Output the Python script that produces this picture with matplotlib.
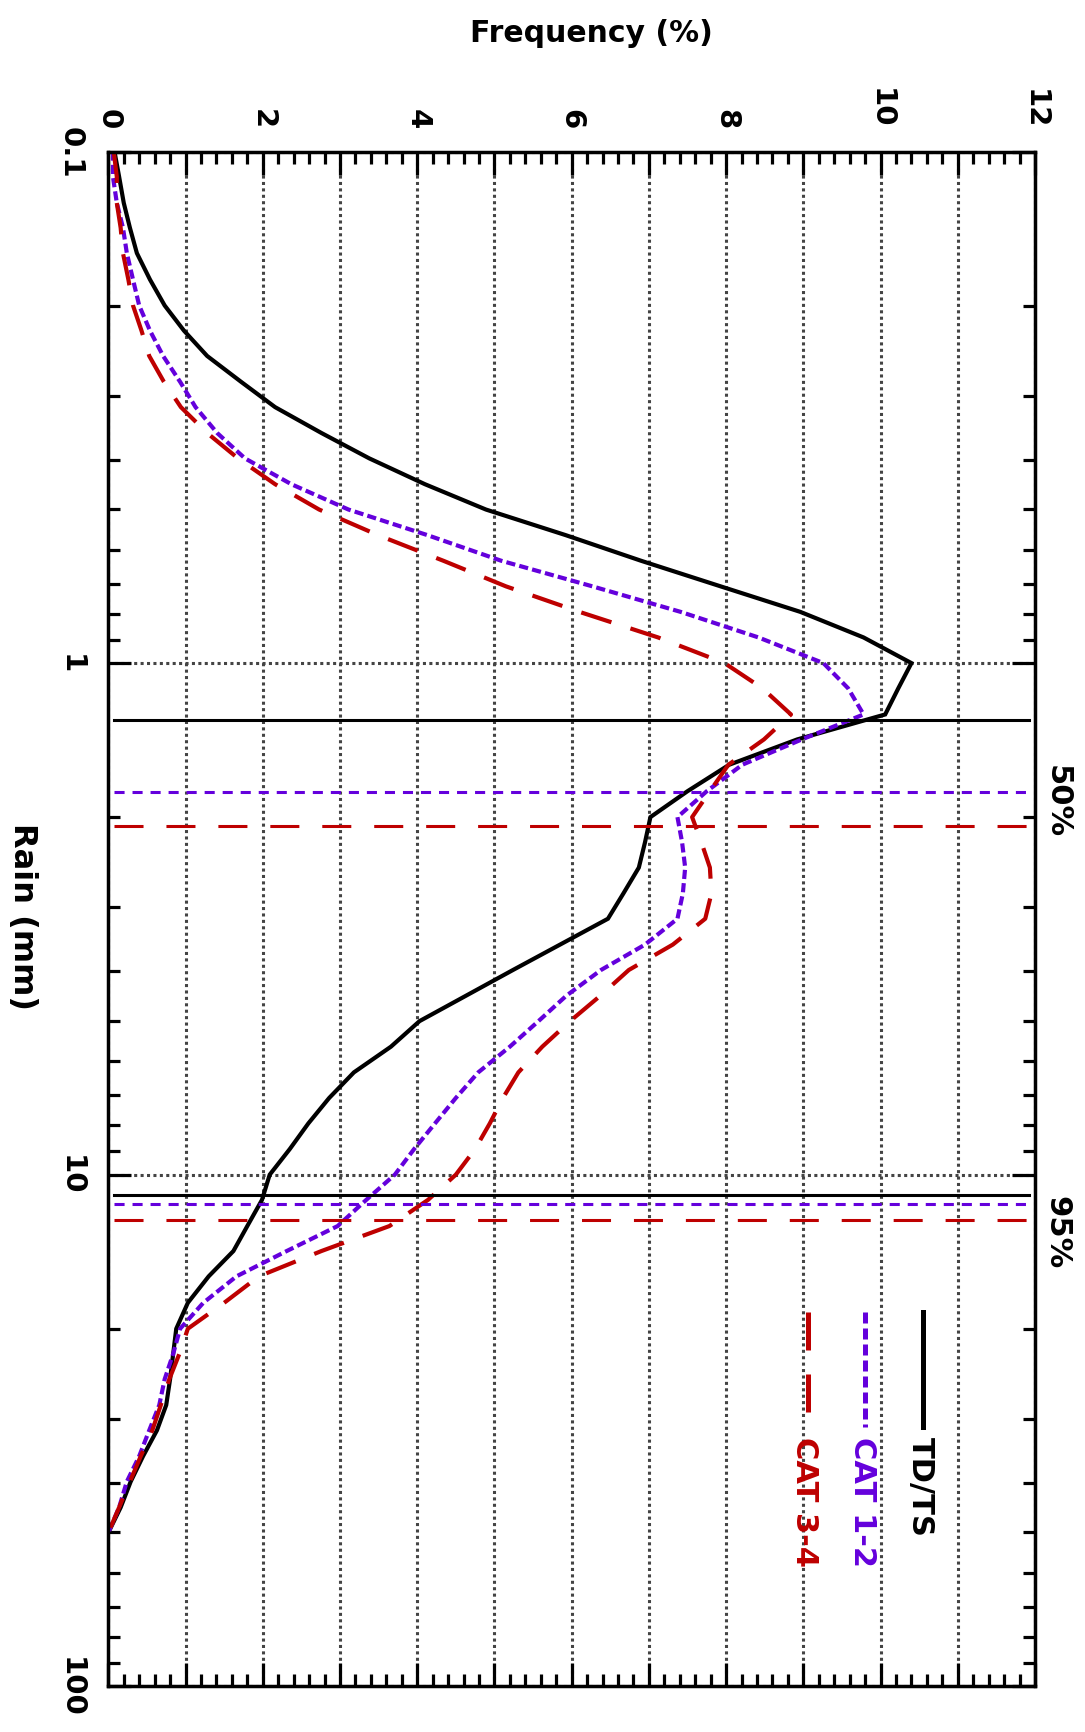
import matplotlib
matplotlib.use("Agg")
import matplotlib.pyplot as plt
from matplotlib.ticker import FixedLocator, FixedFormatter, LogLocator, NullFormatter, MultipleLocator
from matplotlib.lines import Line2D

plt.rcParams['font.family'] = ['DejaVu Sans']
plt.rcParams['font.weight'] = 'bold'

# ---------------- data ----------------
rain_mm = [0.1, 0.112, 0.126, 0.141, 0.158, 0.178, 0.2, 0.224, 0.251, 0.282,
           0.316, 0.355, 0.398, 0.447, 0.501, 0.562, 0.631, 0.708, 0.794, 0.891,
           1.0, 1.12, 1.26, 1.41, 1.58, 1.78, 2.0, 2.24, 2.51, 2.82,
           3.16, 3.55, 3.98, 4.47, 5.01, 5.62, 6.31, 7.08, 7.94, 8.91,
           10.0, 11.2, 12.6, 14.1, 15.8, 17.8, 20.0, 22.4, 25.1, 28.2,
           31.6, 35.5, 39.8, 44.7, 50.1]

freq_tdts = [0.08, 0.14, 0.20, 0.28, 0.37, 0.54, 0.73, 0.98, 1.28, 1.72,
             2.16, 2.76, 3.38, 4.10, 4.89, 5.92, 6.90, 7.93, 8.96, 9.78,
             10.40, 10.23, 10.06, 8.92, 8.04, 7.50, 7.02, 6.95, 6.87, 6.67,
             6.47, 5.85, 5.24, 4.63, 4.03, 3.66, 3.18, 2.86, 2.59, 2.35,
             2.09, 1.99, 1.80, 1.62, 1.30, 1.03, 0.88, 0.84, 0.80, 0.75,
             0.63, 0.45, 0.29, 0.16, 0.0]

freq_cat12 = [0.06, 0.06, 0.11, 0.19, 0.24, 0.32, 0.40, 0.54, 0.71, 0.93,
              1.13, 1.41, 1.77, 2.37, 3.11, 4.13, 5.09, 6.27, 7.41, 8.42,
              9.26, 9.58, 9.78, 8.98, 8.21, 7.75, 7.37, 7.43, 7.47, 7.44,
              7.37, 6.95, 6.38, 5.93, 5.57, 5.20, 4.79, 4.50, 4.23, 3.96,
              3.71, 3.34, 2.97, 2.31, 1.66, 1.23, 0.93, 0.84, 0.73, 0.66,
              0.53, 0.40, 0.24, 0.14, 0.0]

freq_cat34 = [0.07, 0.11, 0.11, 0.16, 0.19, 0.26, 0.32, 0.43, 0.53, 0.72,
              0.94, 1.28, 1.68, 2.16, 2.73, 3.49, 4.34, 5.15, 6.10, 7.12,
              7.98, 8.47, 8.84, 8.49, 8.03, 7.79, 7.56, 7.68, 7.79, 7.81,
              7.73, 7.31, 6.74, 6.37, 5.98, 5.62, 5.31, 5.11, 4.94, 4.75,
              4.50, 4.14, 3.64, 2.76, 1.95, 1.50, 1.03, 0.92, 0.79, 0.68,
              0.57, 0.42, 0.28, 0.14, 0.0]

series_names = ['TD/TS', 'CAT 1-2', 'CAT 3-4']
p50 = [1.29, 1.79, 2.08]
p95 = [10.96, 11.43, 12.27]

freq_ticks = list(range(0, 13))
freq_ticklabels = ['0', '', '2', '', '4', '', '6', '', '8', '', '10', '', '12']
rain_ticks = [0.1, 1, 10, 100]
rain_ticklabels = ['0.1', '1', '10', '100']

# ---------------- styles ----------------
BLACK = '#000000'
BLUE = '#6400DC'
RED = '#BE0000'
colors = [BLACK, BLUE, RED]
curve_styles = ['-', (0, (2.2, 1.0)), (0, (7.6, 4.8))]
ref_styles = ['-', (0, (3.3, 2.6)), (0, (9.5, 7.5))]

W, H = 1085, 1733
fig = plt.figure(figsize=(W / 100, H / 100), dpi=100)
ax_l, ax_r, ax_t, ax_b = 108.3, 1035.0, 152.5, 1687.3
ax = fig.add_axes([ax_l / W, 1 - ax_b / H, (ax_r - ax_l) / W, (ax_b - ax_t) / H])

ax.set_yscale('log')
ax.set_xlim(0, 12)
ax.set_ylim(100, 0.1)

# grid
ax.xaxis.set_major_locator(FixedLocator(freq_ticks))
ax.xaxis.set_major_formatter(FixedFormatter(freq_ticklabels))
ax.xaxis.set_minor_locator(MultipleLocator(0.2))
ax.yaxis.set_major_locator(FixedLocator(rain_ticks))
ax.yaxis.set_major_formatter(FixedFormatter(rain_ticklabels))
ax.yaxis.set_minor_locator(LogLocator(base=10, subs=range(2, 10)))
ax.yaxis.set_minor_formatter(NullFormatter())

ax.grid(True, which='major', color='#444444', linestyle=(0, (1.0, 1.1)), linewidth=2.2)

for sp in ax.spines.values():
    sp.set_linewidth(2.5)
    sp.set_zorder(5)

ax.tick_params(which='both', direction='in', top=True, bottom=True, left=True, right=True,
               width=2.3, labeltop=True, labelbottom=False, labelleft=True, labelright=False)
ax.tick_params(which='major', length=16.5, labelsize=21, pad=17)
ax.tick_params(which='minor', length=8.5)
for lab in ax.get_xticklabels() + ax.get_yticklabels():
    lab.set_rotation(-90)
    lab.set_fontweight('bold')
for lab in ax.get_xticklabels():
    lab.set_ha('center')
    lab.set_va('bottom')
for lab in ax.get_yticklabels():
    lab.set_ha('right')
    lab.set_va('center')

# curves
all_freqs = [freq_tdts, freq_cat12, freq_cat34]
for f, c, ls in zip(all_freqs, colors, curve_styles):
    ax.plot(f, rain_mm, color=c, linestyle=ls, linewidth=3.0, solid_joinstyle='miter',
            dash_capstyle='butt', zorder=3)

# 50% / 95% reference lines
for vals in (p50, p95):
    for v, c, ls in zip(vals, colors, ref_styles):
        ax.axhline(v, xmin=0.006, xmax=0.993, color=c, linestyle=ls, linewidth=2.2,
                   dash_capstyle='butt', zorder=4)

ax.text(1.024, 0.577, '50%', transform=ax.transAxes, rotation=-90, ha='center', va='center',
        fontsize=22, fontweight='bold', clip_on=False)
ax.text(1.024, 0.296, '95%', transform=ax.transAxes, rotation=-90, ha='center', va='center',
        fontsize=22, fontweight='bold', clip_on=False)

# manual rotated legend
leg_x = [0.8795, 0.8169, 0.7547]
for name, c, ls, lx in zip(series_names, colors, curve_styles, leg_x):
    ax.add_line(Line2D([lx, lx], [0.2439, 0.1689], transform=ax.transAxes, color=c,
                       linestyle=ls, linewidth=3.6, dash_capstyle='butt', zorder=6))
    ax.text(lx - 0.003, 0.163, name, transform=ax.transAxes, rotation=-90, ha='center', va='top',
            color=c, fontsize=22, fontweight='bold', zorder=6)

# axis titles
fig.text(591 / W, 1 - 33 / H, 'Frequency (%)', ha='center', va='center', fontsize=21.5,
         fontweight='bold')
fig.text(22 / W, 1 - 917 / H, 'Rain (mm)', ha='center', va='center', rotation=-90,
         fontsize=23, fontweight='bold')

fig.savefig('out.png', dpi=100)
